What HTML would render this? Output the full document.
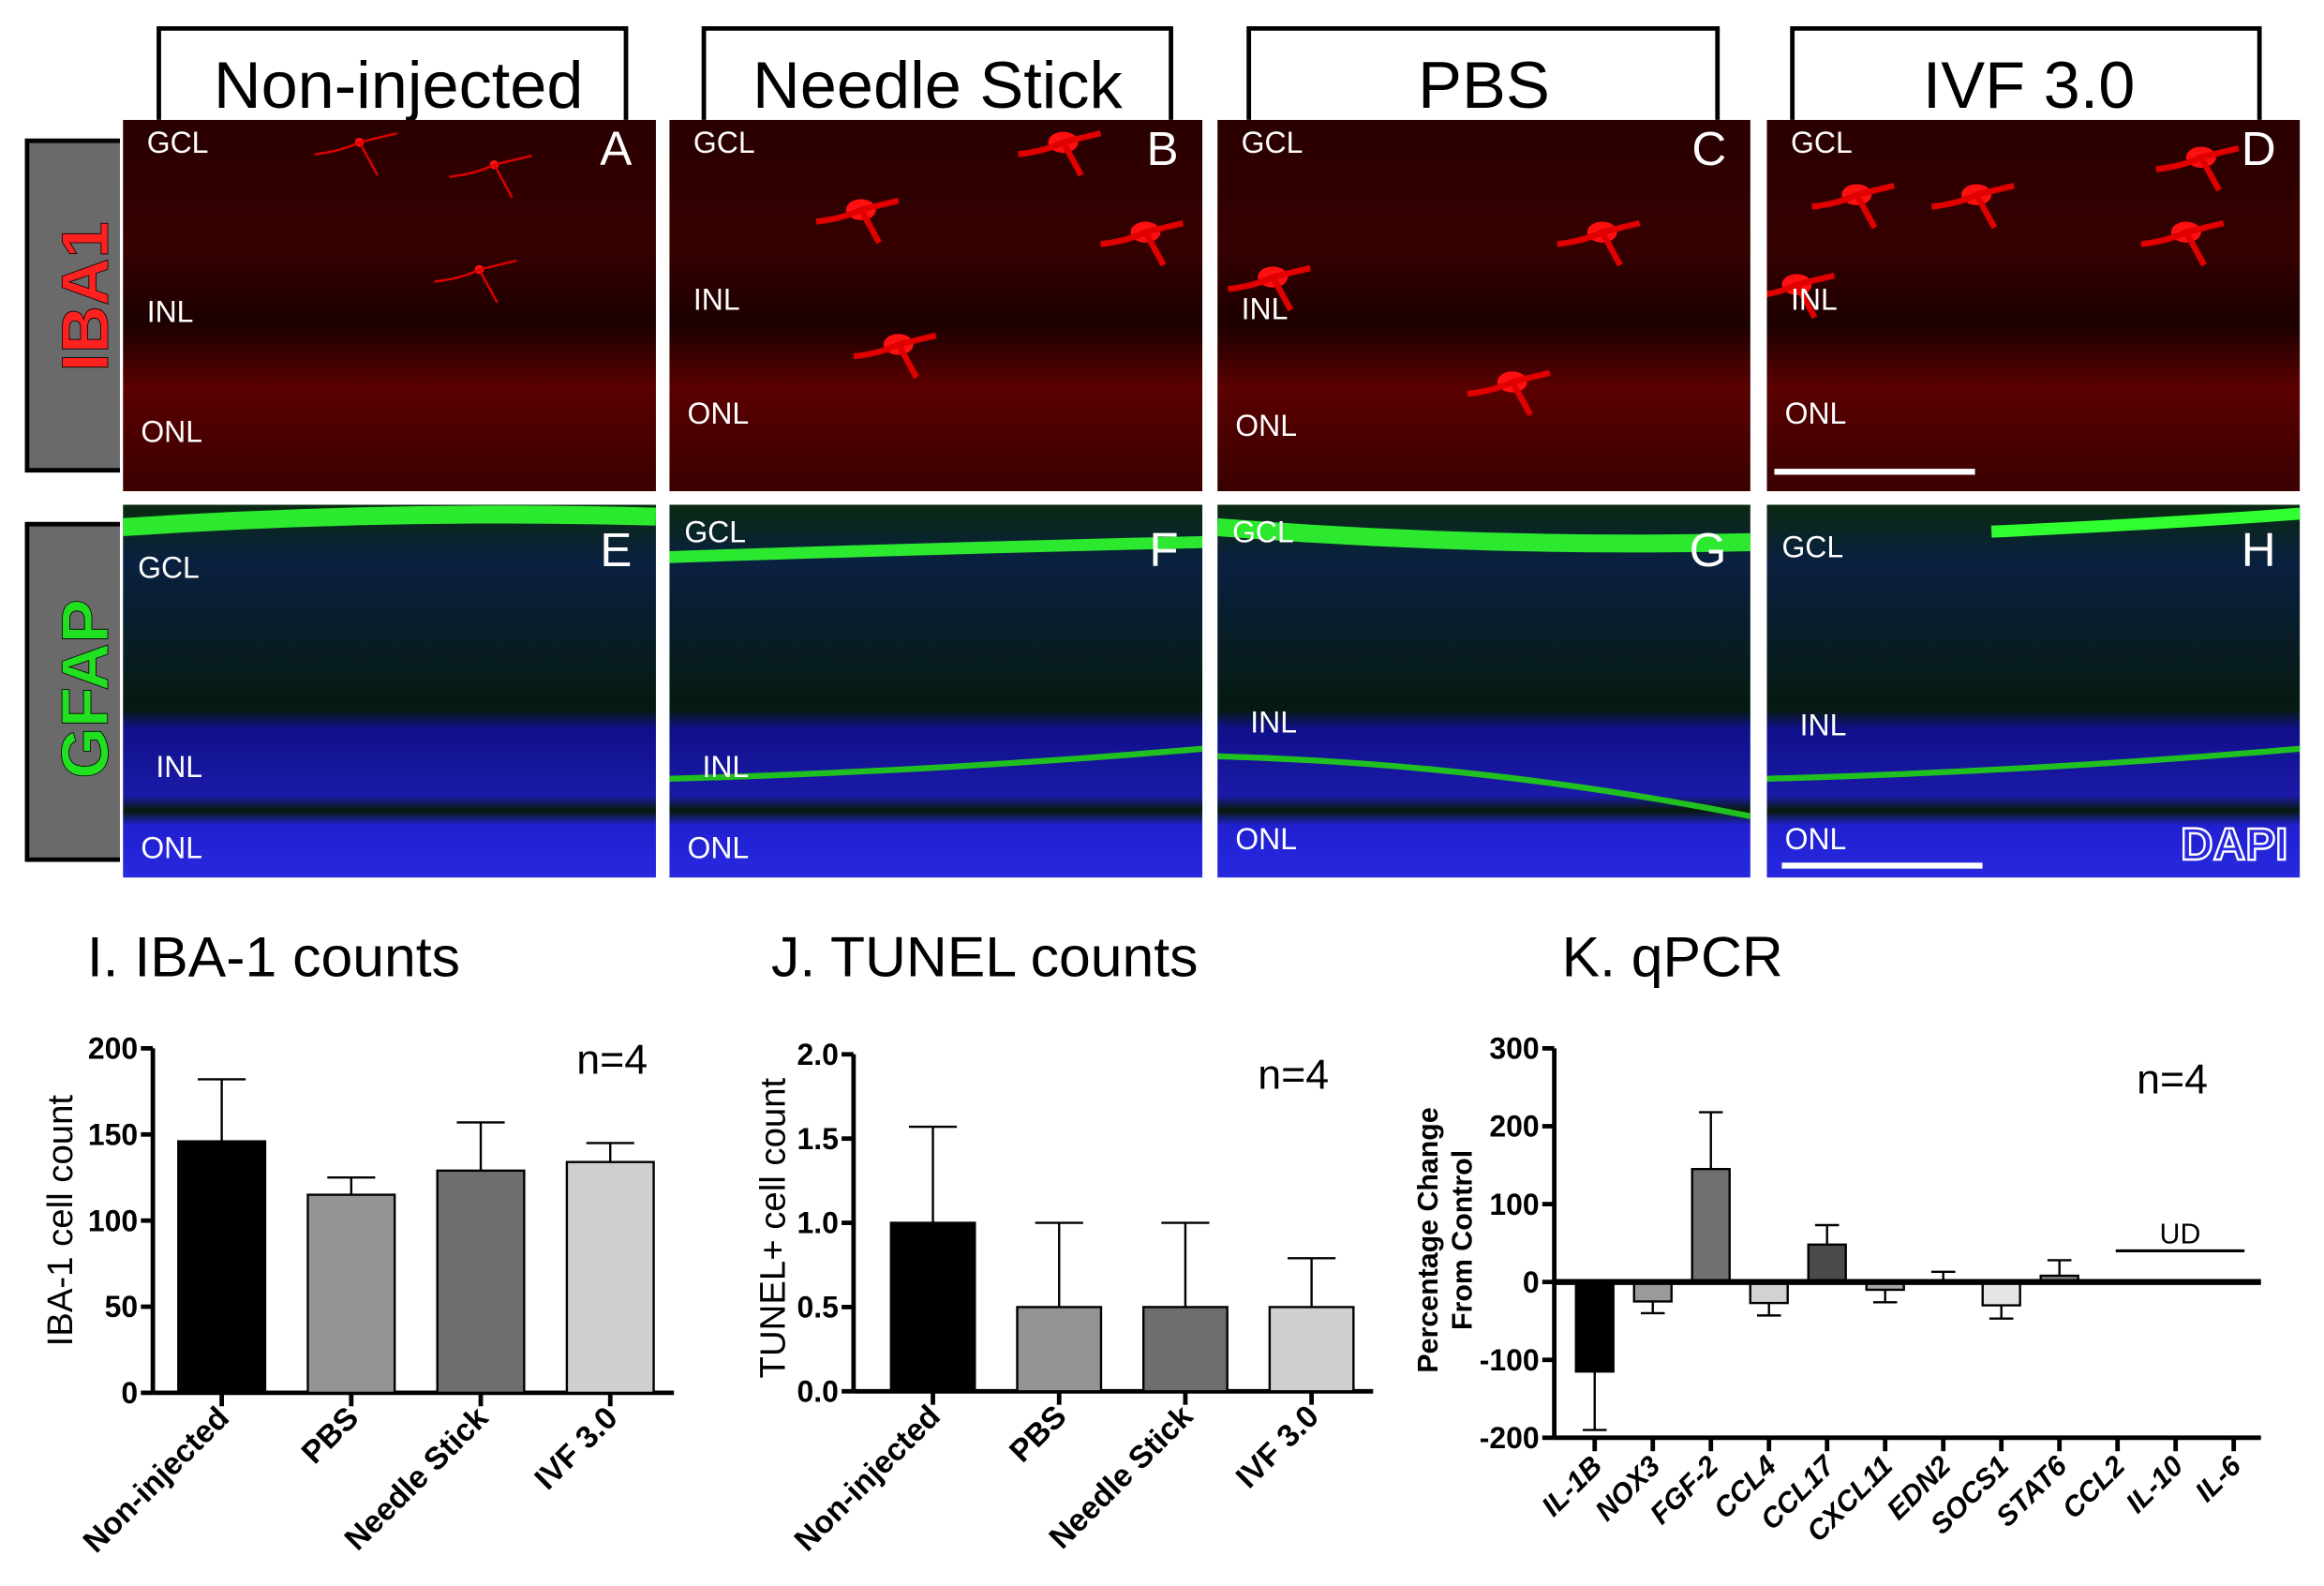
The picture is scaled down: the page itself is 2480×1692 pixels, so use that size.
<!DOCTYPE html>
<html><head><meta charset="utf-8"><style>
html,body{margin:0;padding:0;background:#fff;}
svg{display:block;}
text{font-family:"Liberation Sans",sans-serif;}
</style></head><body>
<svg id="fig" width="2480" height="1692" viewBox="0 0 1552 1059" xmlns="http://www.w3.org/2000/svg">
<defs>
<linearGradient id="ibaG" x1="0" y1="0" x2="0" y2="1">
<stop offset="0" stop-color="#2a0000"/><stop offset="0.35" stop-color="#350000"/><stop offset="0.55" stop-color="#1c0000"/><stop offset="0.72" stop-color="#5a0000"/><stop offset="1" stop-color="#3a0000"/></linearGradient>
<linearGradient id="gfG" x1="0" y1="0" x2="0" y2="1">
<stop offset="0" stop-color="#0a2a10"/><stop offset="0.15" stop-color="#0a2040"/><stop offset="0.55" stop-color="#061a10"/><stop offset="0.6" stop-color="#10108a"/><stop offset="0.78" stop-color="#1a1aa8"/><stop offset="0.82" stop-color="#081a08"/><stop offset="0.86" stop-color="#2020d0"/><stop offset="1" stop-color="#2828e0"/></linearGradient>
</defs>
<rect width="1552" height="1059" fill="#fff"/>

<g font-size="44" text-anchor="middle" fill="#000">
<path d="M106 80V19H418V80" fill="none" stroke="#000" stroke-width="3"/><text x="266" y="72">Non-injected</text>
<path d="M470 80V19H782V80" fill="none" stroke="#000" stroke-width="3"/><text x="626" y="72">Needle Stick</text>
<path d="M834 80V19H1147V80" fill="none" stroke="#000" stroke-width="3"/><text x="991" y="72">PBS</text>
<path d="M1197 80V19H1509V80" fill="none" stroke="#000" stroke-width="3"/><text x="1355" y="72">IVF 3.0</text>
</g>

<g>
<path d="M80 94H18V314H80" fill="#6a6a6a" stroke="#000" stroke-width="3"/>
<text transform="translate(72,198) rotate(-90)" text-anchor="middle" font-size="44" font-weight="bold" fill="#ff2020" stroke="#000" stroke-width="0.5">IBA1</text></g>
<g>
<path d="M80 350H18V574H80" fill="#6a6a6a" stroke="#000" stroke-width="3"/>
<text transform="translate(72,460) rotate(-90)" text-anchor="middle" font-size="44" font-weight="bold" fill="#20e020" stroke="#000" stroke-width="0.5">GFAP</text></g>

<g id="panels"></g>

<text x="58" y="652" font-size="38">I. IBA-1 counts</text>
<text x="515" y="652" font-size="38">J. TUNEL counts</text>
<text x="1043" y="652" font-size="38">K. qPCR</text>

<g id="chartI"></g>
<g id="chartJ"></g>
<g id="chartK"></g>
</svg>
<script>
const NS="http://www.w3.org/2000/svg";
function mk(p,tag,at,txt){const e=document.createElementNS(NS,tag);for(const k in at)e.setAttribute(k,at[k]);if(txt!==undefined)e.textContent=txt;p.appendChild(e);return e;}

const panelsG=document.getElementById('panels');
const defs=document.querySelector('defs');
const colX=[82,447,813,1180];
const panelLetters1=['A','B','C','D'];
const panelLetters2=['E','F','G','H'];
colX.forEach((x,i)=>{
  const c1=mk(defs,'clipPath',{id:'c1'+i});mk(c1,'rect',{x:x,y:80,width:356,height:248});
  const c2=mk(defs,'clipPath',{id:'c2'+i});mk(c2,'rect',{x:x,y:337,width:356,height:249});
  const g=mk(panelsG,'g',{'clip-path':`url(#c1${i})`});
  
  
  mk(g,'rect',{x:x,y:80,width:356,height:248,fill:'url(#ibaG)'});
  const blobs=[[[240,95],[330,110],[320,180]],[[710,95],[575,140],[765,155],[600,230]],[[1070,155],[1010,255],[850,185]],[[1240,130],[1320,130],[1460,155],[1200,190],[1470,105]]][i];
  blobs.forEach(b=>{mk(g,'ellipse',{cx:b[0],cy:b[1],rx:i==0?3:10,ry:i==0?3:7,fill:'#ff1010'});mk(g,'path',{d:`M${b[0]-30} ${b[1]+8}Q${b[0]-12} ${b[1]+6} ${b[0]} ${b[1]}L${b[0]+25} ${b[1]-6}M${b[0]} ${b[1]}L${b[0]+12} ${b[1]+22}`,stroke:'#e00000','stroke-width':i==0?1.5:4,fill:'none'});});
  const ys=[[102,215,295],[102,207,283],[102,213,291],[102,207,283]][i];
  mk(g,'text',{x:x+16,y:ys[0],'font-size':20,fill:'#fff'},'GCL');
  mk(g,'text',{x:x+16,y:ys[1],'font-size':20,fill:'#fff'},'INL');
  mk(g,'text',{x:x+12,y:ys[2],'font-size':20,fill:'#fff'},'ONL');
  mk(g,'text',{x:x+340,y:110,'font-size':32,fill:'#fff','text-anchor':'end'},panelLetters1[i]);
  const g2=mk(panelsG,'g',{'clip-path':`url(#c2${i})`});
  
  
  mk(g2,'rect',{x:x,y:337,width:356,height:249,fill:'url(#gfG)'});
  if(i<3) mk(g2,'path',{d:`M${x} ${i==1?372:352}Q${x+180} ${i==0?340:366} ${x+356} ${i==0?345:362}`,stroke:'#30ff30','stroke-width':i==1?8:12,fill:'none',opacity:0.9});
  else mk(g2,'path',{d:`M${x+150} 355Q${x+260} 350 ${x+356} 343`,stroke:'#30ff30','stroke-width':8,fill:'none'});
  if(i>0) mk(g2,'path',{d:`M${x} ${i==2?505:520}Q${x+180} ${i==2?510:515} ${x+356} ${i==2?545:500}`,stroke:'#20c020','stroke-width':4,fill:'none'});
  const y2=[[380,512,566],[356,512,566],[356,482,560],[366,484,560]][i];
  mk(g2,'text',{x:x+10,y:y2[0]+6,'font-size':20,fill:'#fff'},'GCL');
  mk(g2,'text',{x:x+22,y:y2[1]+7,'font-size':20,fill:'#fff'},'INL');
  mk(g2,'text',{x:x+12,y:y2[2]+7,'font-size':20,fill:'#fff'},'ONL');
  mk(g2,'text',{x:x+340,y:378,'font-size':32,fill:'#fff','text-anchor':'end'},panelLetters2[i]);
});
const sb1=mk(panelsG,'rect',{x:1185,y:313,width:134,height:4,fill:'#fff'});


const sb2=mk(panelsG,'rect',{x:1190,y:576,width:134,height:4,fill:'#fff'});


const dp=mk(panelsG,'text',{x:1528,y:574,'font-size':30,'font-weight':'bold',fill:'#2828e0',stroke:'#fff','stroke-width':1.5,'text-anchor':'end'},'DAPI');



const catsI=['Non-injected','PBS','Needle Stick','IVF 3.0'];
const valsI=[146,115,129,134];
const errI=[182,125,157,145];
const ticksI=[0,50,100,150,200];
const catsJ=['Non-injected','PBS','Needle Stick','IVF 3.0'];
const valsJ=[1.0,0.5,0.5,0.5];
const errJ=[1.57,1.0,1.0,0.79];
const ticksJ=[0,0.5,1.0,1.5,2.0];
const tickLabelsJ=['0.0','0.5','1.0','1.5','2.0'];
const catsK=['IL-1B','NOX3','FGF-2','CCL4','CCL17','CXCL11','EDN2','SOCS1','STAT6','CCL2','IL-10','IL-6'];
const valsK=[-115,-25,145,-27,48,-10,0,-30,8,0,0,0];
const errK=[-190,-40,218,-43,73,-26,13,-47,28,0,0,0];
const ticksK=[-200,-100,0,100,200,300];
const colorsBar=['#000','#949494','#6e6e6e','#cfcfcf'];
const colorsK=['#000','#9a9a9a','#707070','#d2d2d2','#4a4a4a','#a8a8a8','#888','#e6e6e6','#8a8a8a','#fff','#fff','#fff'];

function barChart(g,o){
  const y=v=>o.y0-(v-o.min)/(o.max-o.min)*(o.y0-o.y1);
  const x=i=>o.xl+o.first+i*o.step;
  mk(g,'line',{x1:o.xl,y1:o.y1,x2:o.xl,y2:o.y0,stroke:'#000','stroke-width':3});
  mk(g,'line',{x1:o.xl,y1:o.y0,x2:o.xr,y2:o.y0,stroke:'#000','stroke-width':3});
  o.ticks.forEach((t,k)=>{
    mk(g,'line',{x1:o.xl-8,y1:y(t),x2:o.xl,y2:y(t),stroke:'#000','stroke-width':3});
    const tl=mk(g,'text',{x:o.xl-10,y:y(t)+7,'font-size':20,'font-weight':'bold','text-anchor':'end'},o.tlabels?o.tlabels[k]:t);
    
    
  });
  o.cats.forEach((c,i)=>{
    const cx=x(i);
    mk(g,'line',{x1:cx,y1:o.y0,x2:cx,y2:o.y0+9,stroke:'#000','stroke-width':3});
    const zero=o.zero!==undefined?o.zero:o.min;
    const v=o.vals[i];
    if(v!==0){
      const b=mk(g,'rect',{x:cx-o.bw/2,y:Math.min(y(v),y(zero)),width:o.bw,height:Math.abs(y(v)-y(zero)),fill:o.colors[i],stroke:'#000','stroke-width':1.5});
      
      
    }
    const e=o.err[i];
    if(e!==v){
      const eb=mk(g,'path',{d:`M${cx} ${y(v)}V${y(e)}M${cx-o.cap} ${y(e)}H${cx+o.cap}`,stroke:'#000','stroke-width':1.5,fill:'none'});
      
      
    }
    const lb=mk(g,'text',{transform:`translate(${cx+6},${o.y0+o.lbOff}) rotate(-45)`,'font-size':o.lbSize,'font-weight':'bold','font-style':o.italic?'italic':'normal','text-anchor':'end'},c);
    
    
  });
  return y;
}

const gI=document.getElementById('chartI');
barChart(gI,{xl:102,xr:450,y0:930,y1:700,min:0,max:200,first:46,step:86.5,bw:58,cap:16,cats:catsI,vals:valsI,err:errI,ticks:ticksI,colors:colorsBar,lbOff:18,lbSize:21});
mk(gI,'text',{transform:'translate(48,815) rotate(-90)','font-size':24,'text-anchor':'middle'},'IBA-1 cell count');
mk(gI,'text',{x:385,y:717,'font-size':28},'n=4');

const gJ=document.getElementById('chartJ');
barChart(gJ,{xl:570,xr:917,y0:929,y1:704,min:0,max:2,first:53,step:84.3,bw:56,cap:16,cats:catsJ,vals:valsJ,err:errJ,ticks:ticksJ,tlabels:tickLabelsJ,colors:colorsBar,lbOff:18,lbSize:21});
mk(gJ,'text',{transform:'translate(524,820) rotate(-90)','font-size':24,'text-anchor':'middle'},'TUNEL+ cell count');
mk(gJ,'text',{x:840,y:727,'font-size':28},'n=4');

const gK=document.getElementById('chartK');
const yK=barChart(gK,{xl:1038,xr:1510,y0:960,y1:700,min:-200,max:300,zero:0,first:27,step:38.8,bw:25,cap:8,cats:catsK,vals:valsK,err:errK,ticks:ticksK,colors:colorsK,lbOff:20,lbSize:19,italic:true});
mk(gK,'line',{x1:1038,y1:yK(0),x2:1510,y2:yK(0),stroke:'#000','stroke-width':4});
const ud=mk(gK,'line',{x1:1413,y1:yK(40),x2:1499,y2:yK(40),stroke:'#000','stroke-width':2});


mk(gK,'text',{x:1456,y:yK(40)-5,'font-size':19,'text-anchor':'middle'},'UD');
mk(gK,'text',{transform:'translate(960,828) rotate(-90)','font-size':19,'font-weight':'bold','text-anchor':'middle'},'Percentage Change');
mk(gK,'text',{transform:'translate(983,828) rotate(-90)','font-size':19,'font-weight':'bold','text-anchor':'middle'},'From Control');
mk(gK,'text',{x:1427,y:730,'font-size':28},'n=4');
</script>
</body></html>
